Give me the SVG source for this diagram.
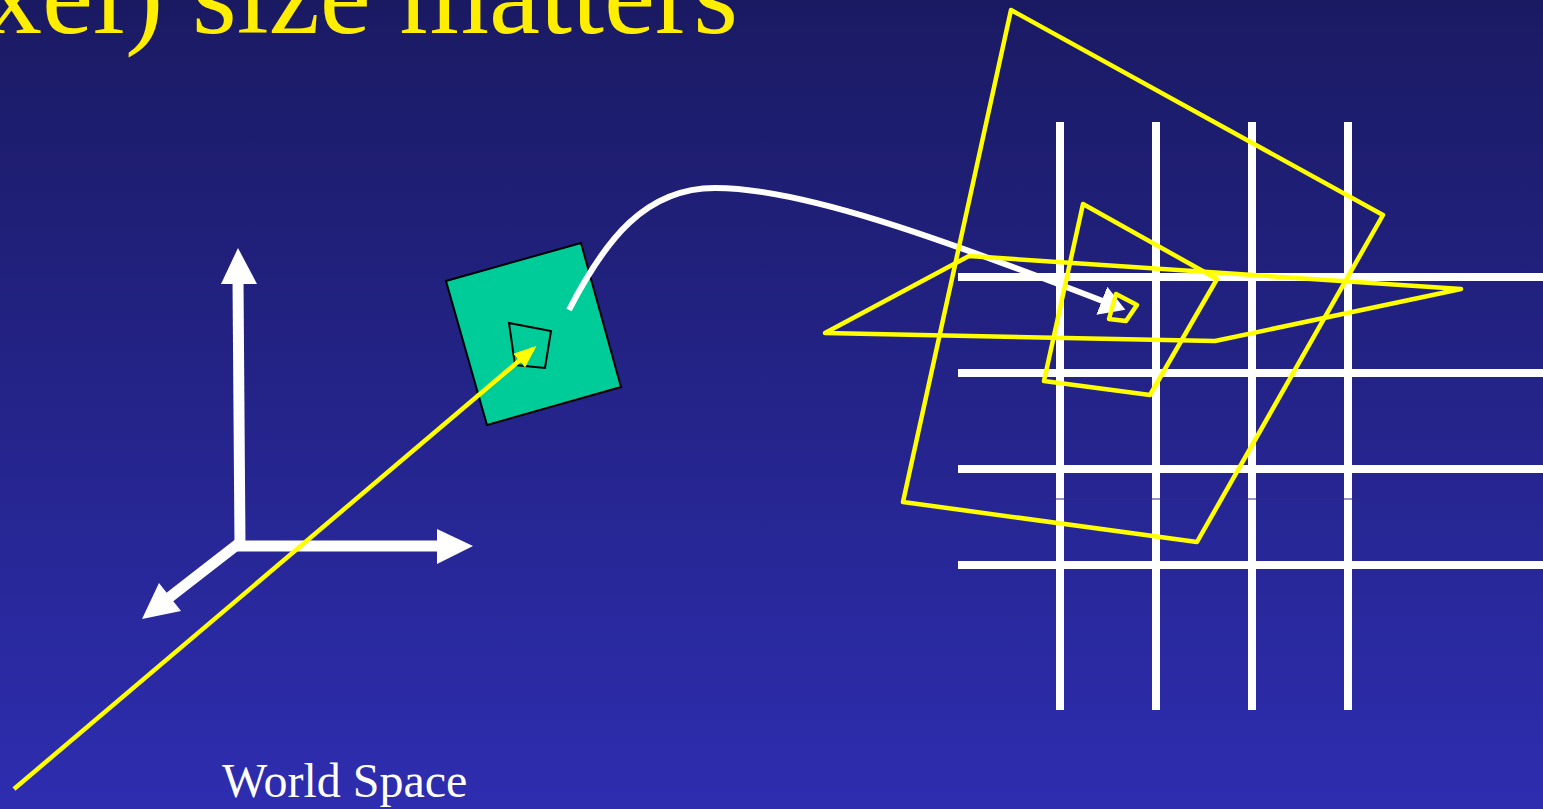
<svg xmlns="http://www.w3.org/2000/svg" width="1543" height="809" viewBox="0 0 1543 809">
<defs>
<linearGradient id="bg" x1="0" y1="0" x2="0" y2="1">
<stop offset="0" stop-color="#1a1a63"/>
<stop offset="1" stop-color="#2e2db0"/>
</linearGradient>
<marker id="yhead" markerWidth="5" markerHeight="4" refX="4" refY="2" orient="auto" markerUnits="strokeWidth">
<path d="M0,0 L5,2 L0,4 Z" fill="#ffff00"/>
</marker>
<marker id="whead" markerWidth="5" markerHeight="5" refX="2" refY="2.5" orient="auto" markerUnits="strokeWidth">
<path d="M0,0 L4.2,2.5 L0,5 Z" fill="#ffffff"/>
</marker>
</defs>
<style>
.grid line{stroke:#ffffff;stroke-width:8}
.ypoly{fill:none;stroke:#ffff00;stroke-width:4.5;stroke-linejoin:round}
.axis{stroke:#ffffff;stroke-width:11}
.ahead{fill:#ffffff}
.title{font-family:"Liberation Serif","Times New Roman",serif;fill:#ffee00}
.label{font-family:"Liberation Serif","Times New Roman",serif;fill:#ffffff}
</style>
<rect x="0" y="0" width="1543" height="809" fill="url(#bg)"/>
<text id="title" class="title" x="738" y="33" font-size="115" text-anchor="end">xel) size matters</text>
<g id="grid" class="grid">
<line x1="958" y1="277" x2="1543" y2="277"/>
<line x1="958" y1="373" x2="1543" y2="373"/>
<line x1="958" y1="469" x2="1543" y2="469"/>
<line x1="958" y1="565" x2="1543" y2="565"/>
<line x1="1060" y1="122" x2="1060" y2="710"/>
<line x1="1156" y1="122" x2="1156" y2="710"/>
<line x1="1252" y1="122" x2="1252" y2="710"/>
<line x1="1348" y1="122" x2="1348" y2="710"/>
</g>
<line id="thin" x1="1050" y1="499" x2="1360" y2="499" stroke="#2a2a8e" stroke-width="1"/>
<g id="axes">
<line class="axis" x1="240" y1="546" x2="238" y2="280"/>
<polygon class="ahead" points="238,248 221,284 257,284"/>
<line class="axis" x1="234" y1="546" x2="440" y2="546"/>
<polygon class="ahead" points="473,546 437,529 437,564"/>
<line class="axis" x1="242" y1="541" x2="166" y2="600"/>
<polygon class="ahead" points="142,619 159,583 181,611"/>
</g>
<g id="pixel">
<polygon points="446,281 581,243 621,387 487,425" fill="#00cc99" stroke="#000000" stroke-width="2"/>
<polygon points="509,323 551,331 545,368 515,365" fill="none" stroke="#000000" stroke-width="2"/>
</g>
<g id="connectors">
<line x1="14" y1="789" x2="533" y2="349" stroke="#ffff00" stroke-width="4.5" marker-end="url(#yhead)"/>
<path d="M569,310 C605,240 645,188 715,188 C800,188 935,236 1113,305" fill="none" stroke="#ffffff" stroke-width="6" marker-end="url(#whead)"/>
</g>
<g id="footprints">
<polygon class="ypoly" points="1011,10 1383,215 1197,542 903,502"/>
<polygon class="ypoly" points="825,333 969,256 1461,289 1215,341"/>
<polygon class="ypoly" points="1083,204 1217,279 1150,395 1044,381"/>
<polygon class="ypoly" points="1116,294 1137,305 1126,321 1109,319"/>
</g>
<text id="worldspace" class="label" x="222" y="797" font-size="48">World Space</text>
</svg>
